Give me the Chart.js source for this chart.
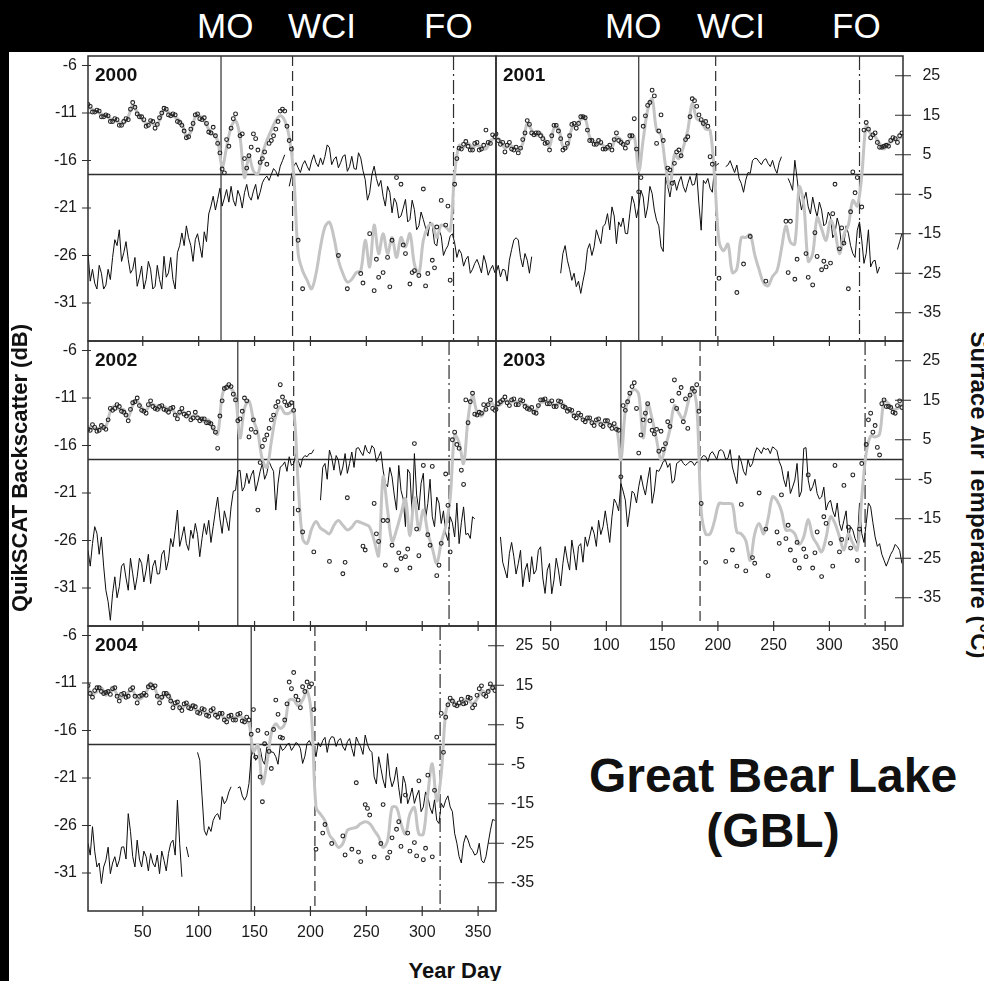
<!DOCTYPE html>
<html>
<head>
<meta charset="utf-8">
<title>Great Bear Lake (GBL)</title>
<script src="https://cdn.jsdelivr.net/npm/chart.js@4.4.1/dist/chart.umd.min.js"></script>
<style>
  html, body { margin: 0; padding: 0; background: #fff; }
  body { position: relative; width: 984px; height: 981px; overflow: hidden;
         font-family: "Liberation Sans", Arial, Helvetica, sans-serif; color: #000; }
  #band { position: absolute; left: 0; top: 0; width: 984px; height: 52px; background: #000; }
  #strip { position: absolute; left: 0; top: 0; width: 9px; height: 981px; background: #000; }
  .event { position: absolute; top: 8px; font-size: 35px; line-height: 35px; color: #fff; white-space: nowrap; }
  canvas.panel { position: absolute; z-index: 1; }
  .year { position: absolute; z-index: 2; font-weight: bold; font-size: 19px; line-height: 19px; color: #111; }
  .title { position: absolute; z-index: 2; font-weight: bold; white-space: nowrap; text-align: center; color: #111; }
  #lake { left: 573px; top: 748px; width: 400px; font-size: 48px; line-height: 55px; }
  #xtitle { left: 355px; top: 960px; width: 200px; font-size: 22px; line-height: 22px; }
  #ytitle { left: -180px; top: 457px; width: 400px; font-size: 22px; line-height: 22px; transform: rotate(-90deg); }
  #ttitle { left: 779px; top: 483px; width: 400px; font-size: 24px; line-height: 24px; transform: rotate(90deg); }
</style>
</head>
<body>
<div id="band"></div>
<div id="strip"></div>
<div class="event" style="left:197px">MO</div>
<div class="event" style="left:288px">WCI</div>
<div class="event" style="left:424px">FO</div>
<div class="event" style="left:605px">MO</div>
<div class="event" style="left:697px">WCI</div>
<div class="event" style="left:832px">FO</div>
<div id="figure"></div>
<div class="title" id="lake">Great Bear Lake<br>(GBL)</div>
<div class="title" id="xtitle">Year Day</div>
<div class="title" id="ytitle">QuikSCAT Backscatter (dB)</div>
<div class="title" id="ttitle">Surface Air Temperature (°C)</div>

<script>
// sampling days (every 4th day of the year)
const days = [1,5,9,13,17,21,25,29,33,37,41,45,49,53,57,61,65,69,73,77,81,85,89,93,97,101,105,109,113,117,
  121,125,129,133,137,141,145,149,153,157,161,165,169,173,177,181,185,189,193,197,201,205,209,213,217,221,225,229,233,237,
  241,245,249,253,257,261,265,269,273,277,281,285,289,293,297,301,305,309,313,317,321,325,329,333,337,341,345,349,353,357,361,365];
// in-between days
const midDays = [3,7,11,15,19,23,27,31,35,39,43,47,51,55,59,63,67,71,75,79,83,87,91,95,99,103,107,111,115,119,
  123,127,131,135,139,143,147,151,155,159,163,167,171,175,179,183,187,191,195,199,203,207,211,215,219,223,227,231,235,239,
  243,247,251,255,259,263,267,271,275,279,283,287,291,295,299,303,307,311,315,319,323,327,331,335,339,343,347,351,355,359,363];

const dayTicks = [50, 100, 150, 200, 250, 300, 350];
const backscatterTicks = [-6, -11, -16, -21, -26, -31];
const tempTicks = [25, 15, 5, -5, -15, -25, -35];

const years = [2000, 2001, 2002, 2003, 2004];
// melt onset, water clear of ice, freeze onset (year day)
const meltOnset = [120, 129, 135, 113, 147];
const waterClearIce = [184, 198, 185, 184, 204];
const freezeOnset = [328, 327, 324, 332, 316];

// surface air temperature (°C) on `days`
const airTemp2000 = [-20,-24,-29,-25,-28,-26.6,-16.5,-14,-19.8,-21.5,-24,-28.3,-23.2,-26.6,-24,-28.3,-26.6,-20.7,-24.9,-26.6,
  -19.8,-14.8,-13,-18,-16.5,-18,-14.5,-10,-5.5,-6.3,-8,-3.8,-3,-8,-5.5,-4.6,-5.5,-4.2,-6.3,-2.1,
  -0.4,0,0.8,2.1,5,-3,2.1,1.7,2.5,2.1,3.4,3,4.2,4.6,6.8,3.8,1.7,4.6,0.8,4.6,
  1.3,4.2,-1.3,-4.6,2.1,-3,-5.5,-3,-9.7,-7.2,-10.5,-6.3,-11.4,-8.9,-13,-11.4,-15.6,-13,-18.1,-15.6,
  -19,-15.6,-17.3,-19,-23.2,-20.7,-24,-21.5,-24.9,-22.4,-24,-24.9];
const airTemp2001 = [-25,-25.9,-24.2,-21.7,-16.6,-16.6,-23.4,-21.7,-20.8,null,null,null,null,null,null,-20,-21.7,-26.8,-28.4,-30.1,
  -24.2,-17.5,-18.3,-15.8,-13.2,-9.9,-8.2,-17.5,-13.2,-14.9,-9.9,-7.3,-8.2,-5.7,-8.2,-4.8,-11.6,-18.3,-0.6,-5.7,
  -1.4,-1.9,-3.1,-2.3,-2.7,0.3,-14.1,-2.3,-3.5,1.9,2.8,null,2.4,1.9,2.4,-2.3,-1.4,0.3,4.1,3.2,
  3.6,2.8,3.6,0.3,4.5,null,-2.3,3.6,-5.7,-6.5,-8.2,-5.7,-10.7,-9,-12.4,-10.7,-14.9,-13.2,-17.5,-14.9,
  -20,-14.1,-16.6,-20,-23.4,-21.7,-23.4,null,null,null,-19,-15];
const airTemp2002 = [-23,-21.3,-18.7,-19.6,-33.1,-40.7,-29.7,-32.2,-26.3,-33.1,-28.9,-29.7,-26.3,-28,-31.4,-25.5,-28.9,-23,-25.5,-22.1,
  -12.8,-19.6,-21.3,-17.9,-16.2,-24.6,-16.2,-15.4,-17,-9.5,-18.7,-15.4,-12,-7.8,-2.7,-6.9,-6.1,-2.7,-5.7,-1,
  -3.5,-1.9,-12.8,-1.9,-0.6,0.7,-1,-0.2,0.3,0.7,1.5,null,-10.3,-1,2.4,-2.7,-0.2,-1.9,-3.5,1.9,
  2.8,1.9,3.6,1.5,2.8,0.7,-2.7,-6.9,-4.4,-12.8,-7.8,-17,-3.5,1.5,-12.8,-3.5,-11.1,-14.5,-9.5,-16.2,
  -18.7,-14.5,-19.6,-21.3,-12,-18.7,-14.5,null,null,null,null,null];
const airTemp2003 = [null,-19.6,-28,-23.8,-24.6,-26.3,-32.2,-26.3,-24.6,-28,-22.1,-33.9,-26.3,-30.5,-28,-26.3,-25.5,-20.4,-28,-21.3,
  -19.6,-19.6,-18.7,-15.4,-17,-17,-14.5,-11.1,-6.1,-10.3,-12.8,-8.6,-6.9,-6.9,-5.2,-11.1,-2.7,-1.9,-0.2,-1,
  -5.2,-0.6,-1,-1,-0.6,-0.6,0.3,0.8,1.4,1.1,2.2,1.9,0.3,-1.9,-6.1,-0.6,-4,-1.9,1.5,2.4,
  3,2.8,3.2,2.2,-1.9,-6.9,-8.6,-5.2,-9.5,2.8,-5.2,-6.9,-8.6,-9.5,-12.8,-10.3,-14.5,-16.2,-15.4,-20.4,
  -17.9,-21.3,-18.7,-16.2,-12,-19.6,-21.3,-25.5,-25.5,-23,-22.1,-26.3];
const airTemp2004 = [-25,-20.8,-31,-35.2,-29.3,-32.7,-28.4,-29.3,-25.9,-17.5,-28.4,-24.2,-31,-28.4,-27.6,-31,-32.7,-29.3,-27.6,-24.2,
  -14.1,-33.5,-25.9,null,null,-4,-21.7,-20.8,-19.2,-17.5,-13.2,-14.1,-10.7,null,-10.7,-14.1,-9.9,-1.4,-3.1,-4,
  -0.6,-1.9,-3.1,-0.2,-1,0.3,-0.6,0.1,-4.8,0.3,-0.2,-3.1,-0.6,1.8,1.1,1.8,1.1,-0.6,0.7,-1,
  1.9,-0.6,2.4,-1.4,-8.2,-3.1,-9,-2.3,-10.7,-5.7,-14.9,-9.9,-13.2,-14.9,-11.6,-15.8,-13.2,-17.5,-19.2,-14.9,
  -14.1,-15.8,-22.5,-28.4,-25,-24.2,-26.8,-27.6,-29.3,-28.4,-21.7,-19.2];

// surface air temperature (°C) on `midDays`
const airTempMid2000 = [-27,-27.5,-23,-29,-24,-21,-18,-22,-17,-25,-21,-26,-29,-22,-29,-23,-29,-26,-21,-29,
  -18,-18,-16,-22,-15,-21,-17,-8,-9,-3.5,-6,-7,-6.5,-4,-8.5,-2.5,-6.5,-2.5,-4.5,-1,
  -1.5,1.5,-0.5,3.5,null,-0.5,3,0.5,3.5,1,5,2,2.5,7.5,2.5,4.5,3,5,2,1.5,
  5.5,1,-6.5,0,-1,-1.5,-8,-4.5,-6,-11,-8.5,-12,-6.5,-14,-9.5,-13.5,-12,-17.5,-14,-20.5,
  -18,-15,-21,-20,-21.5,-25,-22.5,-23,-20.5,-25.5,-23];
const airTempMid2001 = [-23,-24,-27,-19,-16,-21,-20,-25,null,null,null,null,null,null,-25,-18,-24,-25,-27,-27,
  -19,-20.5,-14,-17.5,-12.5,-14,-10.5,-12,-11,-15,-5.5,-11,-4,-11,-3,-9,-13,-19.5,-3,-2,
  -4,-0.5,-4.5,-0.5,-2.5,-7.5,-1.5,-1,-4.5,2.5,null,2,3.5,0.5,-1,-4.5,0.5,3.5,4,2.5,
  4,2,1.5,3,null,-1,-4,-1,-9,-4.5,-10,-8.5,-7,-13,-9.5,-16,-11,-18.5,-13,-18,
  -21,-12,-22.5,-14,-22,-25,null,null,null,null,-17];
const airTempMid2002 = [-27,-17,-24,-27,-36,-34,-35,-27,-30,-25,-33,-25,-31,-24,-27,-29,-24,-28,-20,-18,
  -22,-17,-23,-20,-19,-20,-19,-21,-13,-15,-13,-18,-8,-3,-8,-3.5,-4,-8,-3,-5,
  -0.5,-3,-6,-1.5,-3,-1.5,1.5,-2,1,1.5,2.5,null,-2,-5,0.5,1,-4,1.5,-1,-2,
  3,1,2,3.5,-0.5,2,-6,-2,-9,-1.5,-10,-2.5,-14,-9,-6,-15,-5,-17,-11,-13,
  -20.5,-16,-11,-16,-19,-20,-15,null,null,null,null];
const airTempMid2003 = [null,-26,-30,-21,-29,-23,-28,-31,-29,-23,-30,-28,-34,-25,-32,-22,-28,-24,-22,-26,
  -22,-17,-22,-19,-13,-21,-10,-13,-8,-17,-8,-11,-4,-9,-2,-8,-3,-0.5,-2,-6,
  -1,0,-1.5,-0.5,-1.5,-0.8,1,-0.5,2,0,2.5,0,2.5,-4,1,-3,0,-1,3,1.5,
  2.5,1.5,2.8,-0.5,-5,-3,-7,-1,-8,3,-8,-5,-10,-7,-11,-13,-11,-18,-13,-17,
  -20,-11,-21,-11,-16,-22,-24,-27,-24,-21.5,-23];
const airTempMid2004 = [-28,-27,-30,-31,-26,-30,-31,-26,-29,-22,-31,-29,-27,-32,-30,-28,-27,-32,-25,-28,
  -25,null,-28.5,null,-2,-13,-23,-22,-18,-19,-15,-12,null,-11,-13,-13,-3,-4,-1,-5,
  -1,-2,-5,-1.5,0,-1.5,0.5,-1,-3,1,-1,0.5,1,-2,2,-0.5,1.5,-1.5,1.5,-3,
  0.5,-2.5,0,-2,-10,-6,-11,-8,-9,-11,-8,-15,-11,-13,-17,-12,-16,-14,-20,-16,
  -13,-17,-25,-30,-23,-26,-28,-25,-30,-25,-19];

// smoothed QuikSCAT backscatter (dB) on `days`
const sigmaSmooth2000 = [-10.4,-10.6,-10.9,-11.1,-11.3,-11.6,-11.8,-12,-12.1,-11.4,-10.2,-10.9,-11.6,-12.1,-12,-12.3,-11.8,-10.7,-10.9,-11.3,
  -11.6,-12.1,-13.4,-13,-11.4,-11.3,-11.8,-12.7,-13.2,-13.9,-16.7,-14.6,-12.5,-11.8,-13.5,-17.8,-15.6,-17.1,-17.4,-15.3,
  -13.9,-12.8,-11.8,-11.3,-11.8,-13.5,-17.4,-25.8,-27.6,-28.6,-29.5,-27.9,-25.1,-23,-22.5,-24.1,-26.5,-27.9,-28.8,-28.5,
  -27.8,-27.6,-24.4,-27.2,-22.8,-25.8,-23.7,-25.8,-24.1,-26.2,-24.1,-25.1,-23.7,-26.9,-27.9,-24.4,-23,-22.7,-24.1,-22.8,
  -23,-23.4,-17.4,-14.4,-14.6,-14.2,-14.6,-14.4,-14.6,-14.8,-13.9,-13.7];
const sigmaSmooth2001 = [-13.5,-13.9,-14.7,-14.4,-14.6,-15,-14.2,-12.1,-12.8,-13.4,-13.1,-13.9,-14.5,-12.6,-12.6,-14.5,-14.6,-12.6,-12.2,-11.7,
  -11.6,-13.5,-14,-14.2,-14.4,-14.8,-14.6,-13.5,-13.8,-14.4,-13.8,-13.5,-17.1,-13.8,-10.7,-9.5,-12.8,-13.3,-16.5,-18.8,
  -15.4,-15.8,-14.6,-12.8,-10,-11.6,-11.9,-12.7,-12.8,-17.7,-24.5,-25.5,-24.8,-27.8,-27.4,-24.1,-24.1,-23.8,-25.9,-27.5,
  -28.9,-29.2,-28.2,-27.6,-25.3,-22.9,-24.6,-24.8,-18.8,-20.6,-26.6,-25.8,-22,-23.2,-24.4,-22.3,-23.5,-25.8,-23.8,-22.8,
  -20.2,-20.8,-17.6,-12.3,-13.2,-13.5,-14.2,-14.8,-14.2,-13.9,-13.8,-13.5];
const sigmaSmooth2002 = [-14,-14.2,-14.2,-14.2,-14,-12.4,-11.8,-12.2,-12.2,-13,-11.8,-11.3,-12,-12.3,-11.6,-11.8,-12.2,-11.9,-12.2,-12.3,
  -12.9,-12.4,-12.7,-13,-12.8,-13.1,-13.5,-13.3,-14.3,-14.8,-10.8,-9.7,-10,-10.9,-15.2,-12.1,-11.3,-13.3,-14.7,-17.5,
  -18.3,-15.6,-12.9,-11.9,-12.6,-12.6,-12.3,-20,-25.8,-26.3,-24.8,-24,-24.7,-25,-25.3,-24.4,-23.9,-24.4,-24.9,-24.6,
  -24,-24.1,-24.3,-24.6,-26,-27.6,-19.3,-22.8,-26.1,-24.9,-23.2,-21.6,-25.5,-21.5,-24.9,-22.8,-25.2,-26.8,-28.4,-26.2,
  -24.5,-21.6,-14.9,-15.7,-17.9,-13.2,-10.7,-12.5,-12.9,-12,-11.4,-12];
const sigmaSmooth2003 = [-11.9,-11.7,-11.2,-11.4,-11.4,-11.4,-11.6,-11.8,-12.3,-12.3,-11.5,-11.4,-11.3,-11.7,-11.6,-11.6,-12.1,-12.6,-12.8,-13,
  -13.3,-13.3,-13.6,-13.5,-13.7,-13.6,-13.9,-14,-17.5,-12.3,-10.7,-10.1,-10.6,-15.2,-11.6,-13.2,-15.4,-17.5,-16.1,-14.3,
  -11.8,-12.6,-13.2,-11.6,-10,-11.8,-22.8,-25.3,-25.3,-23.9,-22.1,-22.1,-22.1,-22.2,-25.1,-25.3,-26,-28.1,-25.3,-24.2,
  -25.3,-23.7,-21.4,-21.8,-22.9,-24.9,-24.9,-25.3,-26.4,-25.6,-23.8,-25.6,-26.4,-27.2,-25.7,-23.5,-24.2,-25.6,-27,-25.3,
  -26.3,-27,-21.5,-16.8,-15,-15.1,-14.8,-11.3,-11.6,-12.2,-12.1,-11.6];
const sigmaSmooth2004 = [-11.6,-12.2,-11.9,-11.5,-12.3,-11.8,-11.8,-12.6,-12.4,-12,-11.8,-12.7,-12.6,-12,-11,-11.6,-12.8,-12.4,-12.1,-13.3,
  -13.3,-13.6,-13.3,-13.4,-13.8,-13.9,-14.1,-14.2,-14,-14.3,-14.5,-14.8,-14.7,-14.6,-14.5,-14.8,-15.3,
  -18.2,-17.5,-21.6,-19.5,-16.3,-15.3,-15.8,-15.3,-12.8,-12.8,-13.4,-12.8,-11.8,-14.6,
  -24.1,-24.8,-25.5,-27,-27.6,-28.3,-27.9,-26.5,-26.3,-26.2,-25.8,-25.6,-25.8,-26.5,-27.2,-28.3,-27.6,-24.1,-24.1,-25.8,
  -26.9,-24.8,-24.1,-26.9,-26.9,-22.7,-19.5,-23.4,-20.6,
  -14.2,-12.8,-13,-13.4,-12.8,-12.8,-13.2,-12.7,-11.8,-12,-11.6,-11.4];

// individual QuikSCAT backscatter passes (dB) on `days`
const sigmaObs2000 = [-10.1,-10.9,-10.7,-11.4,-11.2,-11.9,-11.6,-12.3,-11.9,-11.7,-9.9,-11.1,-11.4,-12.4,-11.8,-12.6,-11.5,-10.5,-11.2,-11.1,
  -11.9,-12.3,-13.6,-12.7,-11.2,-11.6,-11.5,-13,-12.5,-14.2,-16.9,-13.8,-12.6,-11.1,-13.4,-15.8,-15.5,-13.2,-14.9,-15.8,
  -16.4,-13.9,-12.7,-10.8,-10.8,-13.9,null,-24.4,-29.5,null,null,null,null,null,null,null,-26,null,-29.5,null,
  null,-27.9,null,-23.7,-29.7,-28.3,-27.8,-26.2,-24.4,-17.8,-18.5,-25.8,-29,-27.6,-28.1,-19,-27.9,-26.5,-23,-20.2,
  -22.8,-28.6,-18.5,-14.7,-14.3,-14.5,-14.9,-14.1,-14.8,-12.8,-14.2,-13.5];
const sigmaObs2001 = [-13.2,-14.3,-15.1,-14.1,-14.9,-15.2,-13.8,-11.8,-13.1,-13.1,-13.4,-14.2,-14.9,-12.3,-12.9,-14.9,-14.2,-12.2,-12.6,-11.4,
  -11.5,-13.9,-14.3,-13.9,-14.8,-14.6,-14.9,-13.1,-14.1,-14.7,-13.4,-11.6,
  -19.3,-12.4,-10.2,-8.6,-14.2,-11.2,null,-17,-16.3,-14.9,null,-13.5,-9.5,-10.3,-11.7,-11.9,-15.6,null,
  -28.4,null,null,null,-29.9,null,null,-24,null,null,null,null,null,null,null,-22.4,-22.4,-28.5,null,null,
  -28.3,-29.1,-26.1,-27.5,-27.2,-26.8,-18.5,-25.3,-24.7,-29.5,-17.2,-17.8,-20.9,
  -12,-13.6,-13.1,-14.6,-14.5,-14.5,-13.6,-14.1,-13.1];
const sigmaObs2002 = [-14.3,-13.8,-14.5,-13.9,-14.3,-12.1,-12.1,-11.9,-12.5,-13.4,-11.5,-11,-12.3,-12.6,-11.3,-12.1,-11.9,-12.2,-12.5,-12,
  -13.2,-12.1,-12.9,-13.3,-12.5,-13.4,-13.2,-13.6,-14.1,-16.3,-11.3,-9.9,-9.8,-11.2,
  -13.2,-11,-15.1,-13.3,-22.8,-16.1,-14.9,-13.3,-11.9,-9.6,-11.4,-11.7,-12.3,
  -22.8,-25.1,null,null,null,null,null,-28.2,null,null,-29.5,-21.5,null,null,null,-27,null,-22.1,-26.1,-23.9,
  -23.9,-26.5,-29.1,-27.9,-27.7,-28.9,-15.8,-27.6,-18.1,-25.4,-18.2,-29.7,-26.3,-19,-27.2,
  -14.6,-16.3,-20.1,-13.6,-10.5,-12.8,-12.6,-12.2,-11.2,-12.3];
const sigmaObs2003 = [-12.2,-11.4,-10.9,-11.8,-11.1,-11.7,-11.3,-12.1,-12,-12.6,-11.2,-11.1,-11.6,-11.9,-11.3,-11.9,-12.4,-12.3,-13.1,-12.8,
  -13.5,-13.1,-13.9,-13.2,-14,-13.4,-14.2,-14.3,
  -19.3,-12.3,-10.5,-9.4,-16.8,-13.3,-11.6,-14.4,-14.3,-14.5,-15.8,-14,-9.1,-10.5,-13.5,-14.2,-10,-9.6,
  -22.1,-28.3,null,null,null,null,null,-27,-28.7,-22.2,-29.2,null,-28.4,-21,null,-29.7,null,-25.1,-21.2,-25.8,
  -27,-28.1,-28.9,-26.9,-19.1,-28.9,-25.1,-29.8,-24.2,-26.3,-18.1,-27.2,-20.2,-24.6,-19.1,-28.1,-17.9,
  -15.9,-12.6,-13.9,-17,-11.2,-11.9,-12.5,-11.8,-12];
const sigmaObs2004 = [-11.3,-12.5,-11.5,-11.9,-12,-12.2,-11.5,-12.9,-12.1,-12.4,-11.5,-13.1,-12.3,-12.3,-11.2,-11.3,-13.1,-12.1,-12.4,-13.6,
  -13,-13.9,-13.1,-13.7,-13.5,-14.2,-13.8,-14.5,-13.7,-14.6,-14.2,-15.1,-14.4,-14.9,-14.2,-15.1,-14.9,
  -13.8,-16,-23.5,-16.3,-20,-12.8,-16.7,-14.9,-10.9,-9.9,-12.8,-11.4,-10.9,-11.1,
  -28.5,null,-25.9,null,null,null,-27.1,null,-28.5,-21.5,-29.8,-23.8,-24.9,-29.3,null,-23.8,-29.4,-27.3,-26.4,-28.2,
  -22.8,-28.7,-27.8,-21.3,-29.6,-20.7,-29.3,-16.7,-14.2,
  -14.6,-12.6,-13.3,-13.1,-13.2,-12.5,-13.6,-12.3,-11.3,-12.4,-11.1,-11.8];

// individual QuikSCAT backscatter passes (dB) on `midDays`
const sigmaObsMid2000 = [-10.3,-10.9,-10.8,-11.4,-11.3,-11.9,-11.7,-12.3,-11.6,-10.6,-10.4,-11.4,-11.7,-12.3,-11.9,-12.2,-11,-10.6,-11.3,-11.2,
  -12,-12.9,-13.5,-12.1,-11.1,-11.7,-12.1,-13.1,-13.4,-15.2,-17.3,-14.5,-11.6,null,-13.2,-16.8,-14.6,-13.7,-16.2,-15.1,
  -14.2,-13.4,-11.9,-10.6,-12.4,-14.8,null,null,null,null,null,null,null,null,null,null,null,null,null,null,
  null,-28.9,null,null,-26.4,null,null,-29.3,null,null,-24.9,null,-27.8,null,null,-29.2,null,-27.3,null,null,
  -20.8,null,-15.8,-14.8,-14,-14.9,-14.2,-14.9,-14.4,-14.1,-13.3];
const sigmaObsMid2001 = [-13.9,-14.1,-14.4,-14.8,-14.6,-14.7,-13.1,-12.2,-13.3,-13.1,-13.7,-14.1,-13.4,-12.3,-13.7,-14.7,-13.4,-12.1,-12.1,-11.4,
  -12.8,-13.9,-14.3,-14.1,-14.8,-14.4,-13.8,-13.9,-14.3,-14.1,-13.4,-14.8,
  -17.8,-11.3,-9.9,-9.2,-12.9,-13.9,-16.8,-18.4,-15.1,-15.5,-13.8,-11.4,-9.7,-11.2,-12.1,-12.4,-16.4,
  null,null,null,null,null,null,-26.9,null,null,null,null,-28.7,null,null,null,null,-27.8,null,-26.4,null,
  -25.8,null,-23.6,null,-26.6,null,-21.6,null,-23.1,null,-21.4,-19.4,null,
  -12.8,-12.7,-13.3,-14.1,-14.6,-14.4,-13.9,-13.7,-13.4];
const sigmaObsMid2002 = [-14.4,-14.1,-14.4,-14.1,-13.3,-12.3,-11.7,-12.4,-12.8,-12.2,-11.4,-11.8,-12.4,-11.7,-11.9,-12.2,-11.8,-12.3,-12.1,-12.8,
  -12.5,-12.7,-12.6,-13.1,-13.1,-13.2,-13.6,-13.7,-14.6,-12.9,-10,-9.6,-10.6,-13.4,
  -12.4,-11.3,-14.3,-14.6,-17.8,-15.4,-14.2,-12.8,-11.4,-10.9,-11.8,-11.5,
  null,null,null,null,-27.2,null,null,null,null,null,null,-28.3,null,null,null,-26.6,null,null,-25.3,null,
  -28.6,null,null,-27.3,null,-26.9,null,-24.8,null,null,-26.5,null,-28.6,null,-22.3,
  -15.4,-15.9,-18.6,-11.2,-11.4,-12.7,-12.5,-11.7,-11.7,-12.1];
const sigmaObsMid2003 = [-11.6,-11.2,-11.5,-11.2,-11.7,-11.2,-11.9,-12.2,-12.5,-11.8,-11.2,-11.6,-11.3,-11.9,-11.4,-12,-12.2,-12.9,-12.6,-13.3,
  -13.1,-13.6,-13.3,-13.8,-13.4,-13.9,-13.7,-14.4,
  -11.8,-11.4,-9.8,-12.1,-14.9,-12.6,-13.4,-14.8,-16.6,-16.4,-13.5,-11.3,-12.1,-9.9,-11.1,-10.7,-10.3,-12.4,
  null,null,null,null,null,-28.2,null,null,null,null,null,-27.8,null,null,-24.8,null,null,-26.3,null,-24.4,
  null,-26.2,null,-27.7,null,-27.3,null,-23.5,null,-28.7,null,-25.9,null,-26.8,null,-24.8,null,
  -13.3,-14.6,-16.2,-11.6,-11.9,-12,-12.6,-11.3];
const sigmaObsMid2004 = [-12.1,-11.8,-11.5,-12.1,-11.9,-11.6,-12.4,-12.2,-12.5,-11.7,-12.4,-12.4,-12.1,-11.4,-11.5,-12.4,-12.5,-12.1,-12.9,-13.1,
  -13.6,-13.2,-13.6,-13.4,-14.1,-13.7,-14.4,-13.9,-14.4,-14.2,-14.9,-14.5,-14.9,-14.3,-15,-14.6,
  -16.4,-18.8,-20.9,-17.4,-18.2,-15.9,-14.3,-16.8,-13.2,-11.6,-12.4,-13.6,-11.9,-11.4,-13.8,
  null,-26.8,null,-27.9,null,null,-29.1,null,null,-28.8,null,-24.2,null,null,-27.9,null,-28.8,null,-25.6,null,
  -26.8,null,-29.2,null,-28.4,null,-22.3,null,
  -18.3,-13.3,-12.9,-13.4,-12.7,-13.1,-12.6,-13.3,-11.6,-12.2,-11.9,-11.5];

const airTemp = [airTemp2000, airTemp2001, airTemp2002, airTemp2003, airTemp2004];
const airTempMid = [airTempMid2000, airTempMid2001, airTempMid2002, airTempMid2003, airTempMid2004];
const sigmaSmooth = [sigmaSmooth2000, sigmaSmooth2001, sigmaSmooth2002, sigmaSmooth2003, sigmaSmooth2004];
const sigmaObs = [sigmaObs2000, sigmaObs2001, sigmaObs2002, sigmaObs2003, sigmaObs2004];
const sigmaObsMid = [sigmaObsMid2000, sigmaObsMid2001, sigmaObsMid2002, sigmaObsMid2003, sigmaObsMid2004];

// where each year's panel sits on the page
const PANEL_H = 285, M_LEFT = 80, M_RIGHT = 60, M_TOP = 10, M_BOTTOM = 40;
const layout = [
  { left: 88,  top: 56,  width: 408, leftLabels: true,  rightAxis: false, xLabels: false, xPad: 10 },
  { left: 496, top: 56,  width: 407, leftLabels: false, rightAxis: true,  xLabels: false, xPad: 10 },
  { left: 88,  top: 341, width: 408, leftLabels: true,  rightAxis: false, xLabels: false, xPad: 10 },
  { left: 496, top: 341, width: 407, leftLabels: false, rightAxis: true,  xLabels: true,  xPad: 10 },
  { left: 88,  top: 626, width: 408, leftLabels: true,  rightAxis: true,  xLabels: true,  xPad: 12 }
];

const INK = '#2e2e2e';
const tickFont = { family: "'Liberation Sans', Arial, sans-serif", size: 16 };

// interleave the two samplings into one day-ordered record
function merged(main, mid) {
  const pts = [];
  days.forEach((d, k) => {
    pts.push({ x: d, y: main[k] });
    if (k < midDays.length) pts.push({ x: midDays[k], y: mid[k] });
  });
  return pts;
}

// reference lines (0 °C, MO / WCI / FO), frame and crossing tick marks
const panelFrame = {
  id: 'panelFrame',
  beforeDatasetsDraw(chart, args, opts) {
    const { ctx, chartArea: a, scales: { x, yT } } = chart;
    ctx.save();
    ctx.strokeStyle = INK;
    ctx.lineWidth = 1.3;
    const y0 = yT.getPixelForValue(0);
    ctx.beginPath(); ctx.moveTo(a.left, y0); ctx.lineTo(a.right, y0); ctx.stroke();
    ctx.lineWidth = 1.2;
    opts.events.forEach(ev => {
      const px = x.getPixelForValue(ev.day);
      ctx.setLineDash(ev.dash);
      ctx.beginPath(); ctx.moveTo(px, a.top); ctx.lineTo(px, a.bottom); ctx.stroke();
    });
    ctx.restore();
  },
  afterDraw(chart, args, opts) {
    const { ctx, chartArea: a, scales: { x, yB, yT } } = chart;
    ctx.save();
    ctx.strokeStyle = INK;
    ctx.lineWidth = 1.5;
    ctx.strokeRect(a.left, a.top, a.right - a.left, a.bottom - a.top);
    ctx.lineWidth = 1.2;
    ctx.beginPath();
    dayTicks.forEach(d => {
      const px = x.getPixelForValue(d);
      ctx.moveTo(px, a.bottom - 5); ctx.lineTo(px, a.bottom + 5);
    });
    if (opts.leftTicks) backscatterTicks.forEach(v => {
      const py = yB.getPixelForValue(v);
      ctx.moveTo(a.left - 6, py); ctx.lineTo(a.left + 3, py);
    });
    if (opts.rightTicks) tempTicks.forEach(v => {
      const py = yT.getPixelForValue(v);
      ctx.moveTo(a.right - 8, py); ctx.lineTo(a.right + 8, py);
    });
    ctx.stroke();
    ctx.restore();
  }
};

function zeroPadding(s) {
  s.paddingLeft = s.paddingRight = s.paddingTop = s.paddingBottom = 0;
}

const figure = document.getElementById('figure');

years.forEach((year, i) => {
  const p = layout[i];
  const cv = document.createElement('canvas');
  cv.className = 'panel';
  cv.width = p.width + M_LEFT + M_RIGHT;
  cv.height = PANEL_H + M_TOP + M_BOTTOM;
  cv.style.width = cv.width + 'px';
  cv.style.height = cv.height + 'px';
  cv.style.left = (p.left - M_LEFT) + 'px';
  cv.style.top = (p.top - M_TOP) + 'px';
  figure.appendChild(cv);

  const label = document.createElement('div');
  label.className = 'year';
  label.textContent = year;
  label.style.left = (p.left + 7) + 'px';
  label.style.top = (p.top + 9) + 'px';
  figure.appendChild(label);

  new Chart(cv, {
    type: 'line',
    data: {
      datasets: [
        {
          type: 'scatter',
          data: merged(sigmaObs[i], sigmaObsMid[i]),
          yAxisID: 'yB',
          showLine: false,
          pointRadius: 1.9,
          pointBorderWidth: 1.1,
          pointBorderColor: '#222',
          pointBackgroundColor: 'rgba(255,255,255,0)',
          order: 0
        },
        {
          data: days.map((d, k) => ({ x: d, y: sigmaSmooth[i][k] })),
          yAxisID: 'yB',
          borderColor: '#c4c4c4',
          borderWidth: 3,
          tension: 0.35,
          pointRadius: 0,
          order: 1
        },
        {
          data: merged(airTemp[i], airTempMid[i]),
          yAxisID: 'yT',
          borderColor: '#0d0d0d',
          borderWidth: 1,
          tension: 0,
          spanGaps: false,
          pointRadius: 0,
          order: 2
        }
      ]
    },
    options: {
      responsive: false,
      animation: false,
      devicePixelRatio: 1,
      events: [],
      layout: { padding: { top: M_TOP, left: 0, right: 0, bottom: 0 } },
      plugins: {
        legend: { display: false },
        tooltip: { enabled: false },
        panelFrame: {
          leftTicks: p.leftLabels,
          rightTicks: p.rightAxis,
          events: [
            { day: meltOnset[i], dash: [] },
            { day: waterClearIce[i], dash: [10, 5] },
            { day: freezeOnset[i], dash: [14, 4, 2, 4] }
          ]
        }
      },
      scales: {
        x: {
          type: 'linear', position: 'bottom', min: 1, max: 366,
          grid: { display: false, drawTicks: false },
          border: { display: false },
          afterBuildTicks: s => { s.ticks = dayTicks.map(v => ({ value: v })); },
          afterFit: s => { s.height = M_BOTTOM; zeroPadding(s); },
          ticks: { display: p.xLabels, padding: p.xPad, autoSkip: false, maxRotation: 0, minRotation: 0,
                   font: tickFont, color: '#1a1a1a' }
        },
        yB: {
          type: 'linear', position: 'left', min: -35, max: -5,
          grid: { display: false, drawTicks: false },
          border: { display: false },
          afterBuildTicks: s => { s.ticks = backscatterTicks.map(v => ({ value: v })); },
          afterFit: s => { s.width = M_LEFT; zeroPadding(s); },
          ticks: { display: p.leftLabels, padding: 11, autoSkip: false, font: tickFont, color: '#1a1a1a' }
        },
        yT: {
          type: 'linear', position: 'right', min: -42.15, max: 30,
          grid: { display: false, drawTicks: false },
          border: { display: false },
          afterBuildTicks: s => { s.ticks = tempTicks.map(v => ({ value: v })); },
          afterFit: s => { s.width = M_RIGHT; zeroPadding(s); },
          ticks: { display: p.rightAxis, padding: 15, autoSkip: false, font: tickFont, color: '#1a1a1a',
                   callback: v => (v > 0 ? ' ' : '') + v }
        }
      }
    },
    plugins: [panelFrame]
  });
});
</script>
</body>
</html>
